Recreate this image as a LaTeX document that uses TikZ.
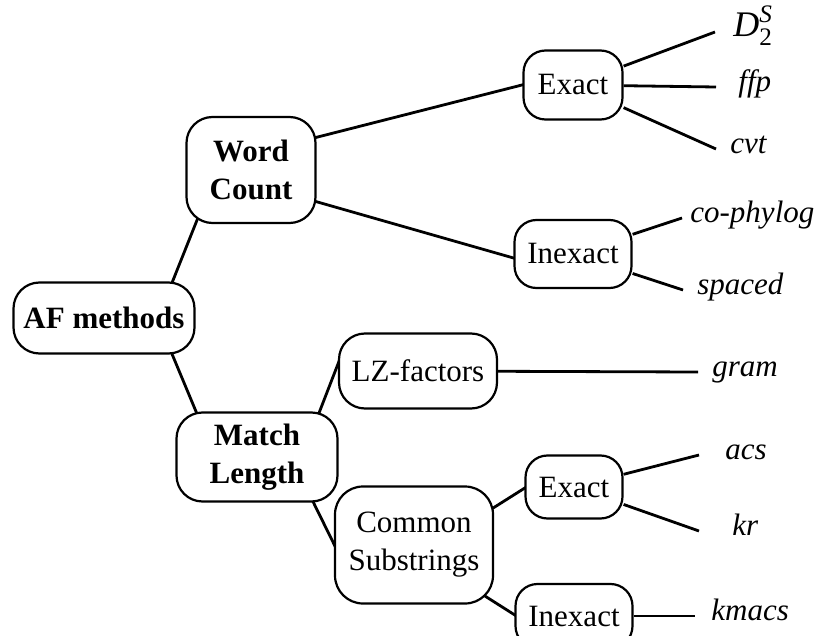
\documentclass[tikz,border=0pt]{standalone}
\usepackage{fontspec}
\usepackage{amsmath}
\setmainfont{Liberation Serif}
\usetikzlibrary{calc,backgrounds}

\newcommand\figfont{\fontsize{15.5}{19}\selectfont}

\tikzset{
  mainbox/.style={draw, line width=1.1pt, rounded corners=13pt, fill=white,
    align=center, inner sep=0pt, font=\figfont\bfseries},
  subbox/.style={draw, line width=1.1pt, rounded corners=11pt, fill=white,
    align=center, inner sep=0pt, font=\figfont},
  leaf/.style={anchor=west, inner xsep=7pt, inner ysep=0pt,
    text height=0.7em, text depth=0.25em, font=\figfont\itshape},
  branch/.style={line width=1.4pt},
}

\begin{document}
\begin{tikzpicture}[x=0.5pt, y=-0.5pt]
    \useasboundingbox (0,0) rectangle (814,636);
    % tree of boxes
    \node [mainbox, minimum width=90.5pt, minimum height=35.5pt] (af) at (104,318) {AF methods};
    \node [mainbox, minimum width=64.5pt, minimum height=53pt] (wc) at (251,170) {Word\\Count};
    \node [mainbox, minimum width=80.5pt, minimum height=44.5pt] (ml) at (257,457) {Match\\Length};
    \node [subbox, minimum width=79pt, minimum height=58.5pt, rounded corners=14pt] (cs) at (414,545) {Common\\Substrings};
    \node [subbox, minimum width=79pt, minimum height=37.5pt, rounded corners=13pt] (lz) at (418,371) {LZ-factors};
    \node [subbox, minimum width=49.5pt, minimum height=34.5pt] (ex1) at (573,85) {Exact};
    \node [subbox, minimum width=58.5pt, minimum height=34pt] (in1) at (573,254) {Inexact};
    \node [subbox, minimum width=48.5pt, minimum height=31.5pt] (ex2) at (574,487) {Exact};
    \node [subbox, minimum width=58.5pt, minimum height=32pt] (in2) at (574,616) {Inexact};
    % tools
    \node [leaf, inner xsep=9pt, font=\fontsize{18}{20}\selectfont] (d2s) at (715,32) {$\textit{D}_{\text{2}}^{\textit{S}}$};
    \node [leaf, inner xsep=11pt] (ffp) at (716,87) {ffp};
    \node [leaf] (cvt) at (716,149) {cvt};
    \node [leaf, inner xsep=4pt] (cophylog) at (682,218) {co-phylog};
    \node [leaf] (spaced) at (683,290) {spaced};
    \node [leaf] (gram) at (698,372) {gram};
    \node [leaf, inner xsep=13pt] (acs) at (699,455) {acs};
    \node [leaf, inner xsep=16.5pt] (kr) at (699,531) {kr};
    \node [leaf, inner xsep=8pt] (kmacs) at (695,616) {kmacs};
    \begin{pgfonlayer}{background}
    \draw [branch] ($(af)+(54,0)$) -- ($(wc)+(-34,0)$);
    \draw [branch] ($(af)+(53,0)$) -- ($(ml)+(-42,0)$);
    \draw [branch] ($(wc)+(0,-16)$) -- ($(ex1)+(0,-13)$);
    \draw [branch] ($(wc)+(0,13)$) -- ($(in1)+(0,21)$);
    \draw [branch] ($(ml)+(45,0)$) -- ($(lz.west)+(2,-12)$);
    \draw [branch] ($(ml)+(34,0)$) -- ($(cs.west)+(2,3)$);
    \draw [branch] ($(cs)+(0,13)$) -- ($(ex2.west)+(2,0)$);
    \draw [branch] ($(cs)+(0,6)$) -- ($(in2.west)+(2,0)$);
    \draw [branch] (ex1) -- (d2s.west);
    \draw [branch] (ex1) -- (ffp.west);
    \draw [branch] (ex1) -- (cvt.west);
    \draw [branch] (in1) -- (cophylog.west);
    \draw [branch] (in1) -- (spaced.west);
    \draw [branch] (lz) -- (gram.west);
    \draw [branch] (ex2) -- (acs.west);
    \draw [branch] (ex2) -- (kr.west);
    \draw [branch] (in2) -- (kmacs.west);
    \end{pgfonlayer}
\end{tikzpicture}
\end{document}
